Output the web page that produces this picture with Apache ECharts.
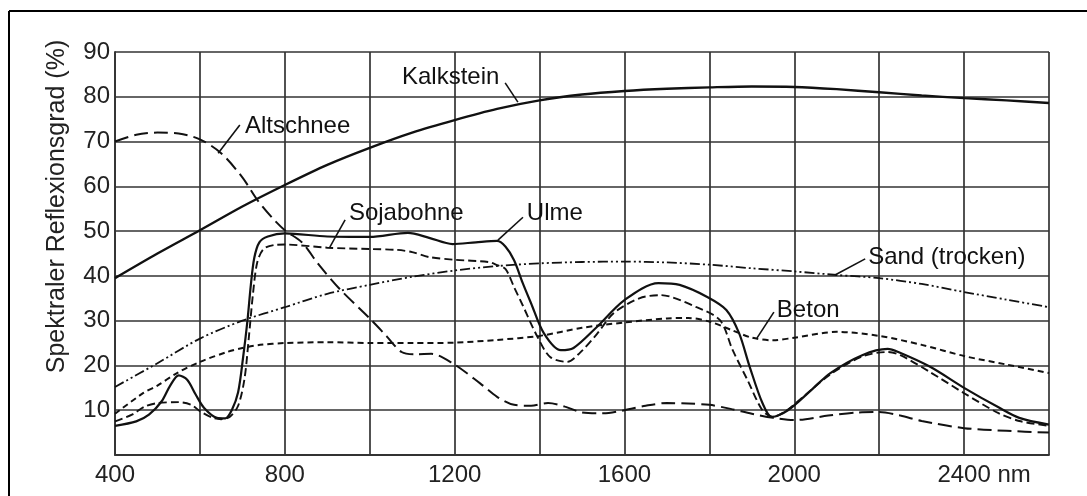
<!DOCTYPE html>
<html>
<head>
<meta charset="utf-8">
<script src="https://cdn.jsdelivr.net/npm/echarts@6/dist/echarts.min.js"></script>
<style>
html,body{margin:0;padding:0;background:#fff;}
#c{width:1087px;height:496px;}
</style>
</head>
<body>
<div id="c"></div>
<script>
// ---- data (wavelength in nm, reflectance in %) ----
const kalksteinNm = [400,500,600,700,800,900,1000,1100,1200,1300,1400,1500,1600,1700,1800,1900,2000,2100,2200,2300,2400,2500,2600];
const kalksteinVal = [39.5,45,50.2,55.5,60.3,64.8,68.6,72,74.8,77.3,79.2,80.5,81.3,81.8,82.1,82.3,82.2,81.7,81,80.3,79.7,79.2,78.6];

const altschneeNm = [400,450,500,550,600,650,700,735,770,800,840,880,930,1000,1040,1075,1110,1145,1195,1260,1300,1340,1380,1420,1460,1500,1550,1600,1650,1700,1750,1800,1850,1900,1950,2000,2080,2150,2200,2250,2300,2400,2500,2600];
const altschneeVal = [70,71.5,72,71.8,70.5,67.4,62,57,53,50.2,47.5,42.5,37,30.5,26.5,23,22.5,22.6,20.5,16,13,11.2,11,11.6,10.8,9.5,9.3,10,11,11.6,11.5,11.2,10.3,9.2,8.3,7.8,8.8,9.5,9.6,8.8,7.6,6,5.4,5];

const ulmeNm = [400,450,480,510,530,550,570,590,610,640,660,675,690,702,712,720,728,740,760,800,900,1000,1090,1140,1195,1250,1300,1320,1340,1360,1380,1410,1450,1480,1535,1600,1680,1730,1795,1840,1870,1895,1925,1947,1985,2040,2085,2160,2220,2245,2320,2400,2480,2530,2600];
const ulmeVal = [6.5,7.5,9,12,15.5,17.8,16.8,13.5,10.5,8.3,8.2,10,14,22,30,38,44,47.5,48.8,49.5,48.8,48.7,49.6,48.5,47.1,47.5,47.8,46.5,43.5,38.5,33.9,27.2,23.4,23.9,28.6,34.6,38.4,38,35.3,32.4,27.2,19.7,11.6,8.5,10,14.5,18.3,22.3,23.7,23,19.7,15,10.7,8.3,6.8];

const sojaNm = [400,440,470,500,550,580,600,630,650,670,690,705,715,725,735,750,775,800,900,1000,1065,1100,1140,1200,1280,1300,1320,1340,1360,1395,1425,1465,1495,1535,1575,1635,1685,1770,1825,1855,1890,1925,1950,1975,2000,2085,2160,2220,2250,2320,2400,2480,2530,2600];
const sojaVal = [7.5,9,10.8,11.6,11.8,11.2,9.8,8.3,8,8.5,11,17,26,36,43,46,46.9,47,46.3,46,45.8,45.3,44.2,43.6,43.1,42.4,41.5,37.5,33.5,26.4,21.9,20.8,22.8,27,31.7,35,35.7,33,30.1,23.4,16.7,10,8.5,9.5,11.3,18,22,23,22.3,18.5,13.8,9.4,7.6,6.5];

const betonNm = [400,466,500,546,600,664,700,742,800,900,1000,1100,1200,1300,1400,1500,1600,1700,1750,1800,1850,1900,1950,2000,2100,2200,2300,2400,2500,2600];
const betonVal = [9.2,13.8,15.5,18.3,20.8,23,23.9,24.6,25,25.2,25,25,25.1,25.7,26.6,28.4,29.6,30.5,30.6,29.8,28,26.2,25.6,26.2,27.5,26.6,24.6,22.1,20.2,18.3];

const sandNm = [400,500,600,700,800,900,1000,1100,1200,1300,1400,1500,1600,1700,1800,1900,2000,2100,2200,2300,2400,2500,2600];
const sandVal = [15.2,20.5,26,30,33,36,38,39.8,41.2,42.2,42.8,43.1,43.2,43,42.5,41.7,41,40.2,39.5,38.2,36.4,34.7,33];

const xTickLabels = {400:'400', 800:'800', 1200:'1200', 1600:'1600', 2000:'2000', 2400:'2400 nm'};
const yTickLabels = {10:'10',20:'20',30:'30',40:'40',50:'50',60:'60',70:'70',80:'80',90:'90'};
const yAxisName = 'Spektraler Reflexionsgrad (%)';

// annotations: text, text anchor (left/middle), pointer start, pointer end (data coords)
const annoText = ['Kalkstein','Altschnee','Sojabohne','Ulme','Sand (trocken)','Beton'];
const annoTextAt = [[1076,84.4],[706,73.5],[951,54],[1370,54],[2174,44.2],[1959,32.4]];
const annoFrom = [[1319,83.1],[694,73.7],[942,52.5],[1361,53.1],[2167,43.8],[1952,31.9]];
const annoTo = [[1349,78.8],[643,67.4],[906,46.4],[1302,48],[2096,40.2],[1912,26.1]];

const FONT = '"Liberation Sans", Arial, Helvetica, sans-serif';
const INK = '#111';
const FS = 24;

function pairs(xs, ys){ return xs.map((x,i)=>[x, ys[i]]); }
function line(name, xs, ys, type, width){
  return {
    name, type:'line', data: pairs(xs,ys), showSymbol:false, smooth:0.3,
    lineStyle:{color:INK, width:width, type:type, cap:'butt'},
    z:5, silent:true, animation:false
  };
}

const chart = echarts.init(document.getElementById('c'), null, {renderer:'canvas'});
chart.setOption({
  animation:false,
  backgroundColor:'#fff',
  grid:{left:115, top:52, right:38, bottom:41},
  xAxis:{
    type:'value', min:400, max:2600, interval:200,
    axisLine:{show:true, lineStyle:{color:'#333', width:1.8}},
    axisTick:{show:false},
    splitLine:{show:true, lineStyle:{color:'#333', width:1.7}},
    axisLabel:{
      margin:8, color:'#222', fontFamily:FONT, fontSize:FS,
      formatter:function(v){
        const t = xTickLabels[v];
        if(!t) return '';
        if(t.indexOf(' nm')>0) return '{p| }' + t;
        return t;
      },
      rich:{p:{width:40, fontSize:FS, fontFamily:FONT}}
    }
  },
  yAxis:{
    type:'value', min:0, max:90, interval:10,
    name: yAxisName, nameLocation:'middle', nameRotate:90, nameGap:45,
    nameTextStyle:{color:'#222', fontFamily:FONT, fontSize:25, padding:[0,0,0,94]},
    axisLine:{show:true, lineStyle:{color:'#333', width:1.8}},
    axisTick:{show:false},
    splitLine:{show:true, lineStyle:{color:'#333', width:1.7}},
    axisLabel:{
      margin:5, color:'#222', fontFamily:FONT, fontSize:FS,
      formatter:function(v){ return yTickLabels[v] || ''; }
    }
  },
  series:[
    line('Kalkstein', kalksteinNm, kalksteinVal, 'solid', 2.4),
    line('Altschnee', altschneeNm, altschneeVal, [14,6], 2),
    line('Ulme', ulmeNm, ulmeVal, 'solid', 2.2),
    line('Sojabohne', sojaNm, sojaVal, [8,4], 1.9),
    line('Beton', betonNm, betonVal, [6,4], 2),
    line('Sand (trocken)', sandNm, sandVal, [10,3,2,3,2,3], 1.8)
  ]
});

// annotations + outer frame
const g = [];
g.push({type:'line', shape:{x1:9, y1:11, x2:9, y2:496}, style:{stroke:'#000', lineWidth:2}, z:10});
g.push({type:'line', shape:{x1:9, y1:11, x2:1087, y2:11}, style:{stroke:'#000', lineWidth:2}, z:10});
annoText.forEach(function(t,i){
  const a = chart.convertToPixel({gridIndex:0}, annoFrom[i]);
  const b = chart.convertToPixel({gridIndex:0}, annoTo[i]);
  const p = chart.convertToPixel({gridIndex:0}, annoTextAt[i]);
  g.push({type:'line', shape:{x1:a[0], y1:a[1], x2:b[0], y2:b[1]}, style:{stroke:INK, lineWidth:1.6}, z:20});
  g.push({type:'text', x:p[0], y:p[1], z:20,
    style:{text:t, fill:'#111', font:FS + 'px ' + FONT, textAlign:'left', textVerticalAlign:'middle'}});
});
chart.setOption({graphic:g});
</script>
</body>
</html>
